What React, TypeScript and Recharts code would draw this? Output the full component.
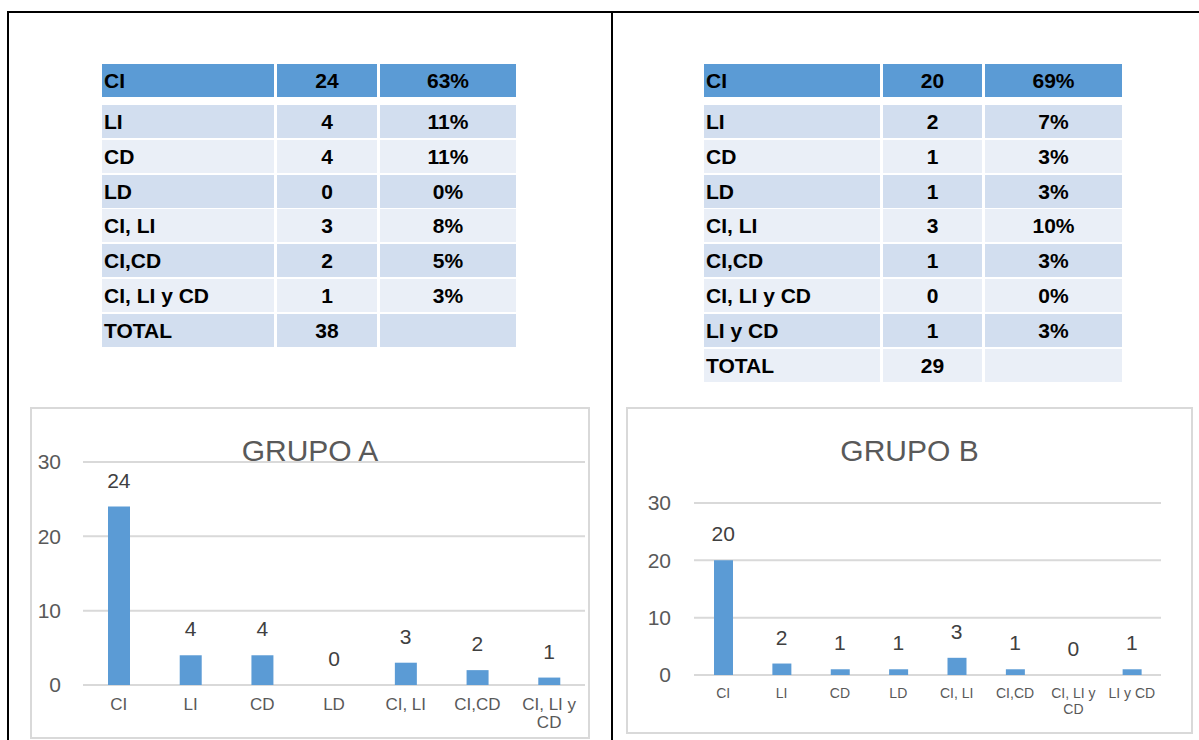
import { ComposedChart, Bar, Line, XAxis, YAxis, CartesianGrid, LabelList, Text } from "recharts";

const FONT = "'Liberation Sans', Arial, sans-serif";

// grupo A
const categoriasA = ["CI", "LI", "CD", "LD", "CI, LI", "CI,CD", "CI, LI y CD"];
const valoresA = [24, 4, 4, 0, 3, 2, 1];
const porcentajesA = ["63%", "11%", "11%", "0%", "8%", "5%", "3%"];
const totalA = 38;

// grupo B
const categoriasB = ["CI", "LI", "CD", "LD", "CI, LI", "CI,CD", "CI, LI y CD", "LI y CD"];
const valoresB = [20, 2, 1, 1, 3, 1, 0, 1];
const porcentajesB = ["69%", "7%", "3%", "3%", "10%", "3%", "0%", "3%"];
const totalB = 29;

const yTicks = [0, 10, 20, 30];

const AZUL = "#5B9BD5";
const FILA_OSCURA = "#D2DEEF";
const FILA_CLARA = "#EAEFF7";

interface TablaProps {
  left: number;
  cols: [number, number, number];
  categorias: string[];
  valores: number[];
  porcentajes: string[];
  total: number;
}

function Celda({ x, y, w, bg, align, children }: any) {
  return (
    <div
      style={{
        position: "absolute",
        left: x,
        top: y,
        width: w,
        height: 33,
        background: bg,
        display: "flex",
        alignItems: "center",
        justifyContent: align === "left" ? "flex-start" : "center",
        paddingLeft: align === "left" ? 2 : 0,
        boxSizing: "border-box",
        fontFamily: FONT,
        fontWeight: 700,
        fontSize: 21,
        color: "#000",
      }}
    >
      {children}
    </div>
  );
}

function Tabla({ left, cols, categorias, valores, porcentajes, total }: TablaProps) {
  const x1 = left;
  const x2 = x1 + cols[0] + 3;
  const x3 = x2 + cols[1] + 3;
  const filas = categorias.map((c, i) => ({ c, v: String(valores[i]), p: porcentajes[i] }));
  filas.push({ c: "TOTAL", v: String(total), p: "" });
  return (
    <>
      {filas.map((f, i) => {
        const y = i === 0 ? 64 : 105 + Math.round((i - 1) * 34.8);
        const bg = i === 0 ? AZUL : i % 2 === 1 ? FILA_OSCURA : FILA_CLARA;
        return (
          <div key={i}>
            <Celda x={x1} y={y} w={cols[0]} bg={bg} align="left">{f.c}</Celda>
            <Celda x={x2} y={y} w={cols[1]} bg={bg}>{f.v}</Celda>
            <Celda x={x3} y={y} w={cols[2]} bg={bg}>{f.p}</Celda>
          </div>
        );
      })}
    </>
  );
}

function WrapTick(props: any) {
  const { x, y, payload, size, lh, ancho } = props;
  return (
    <Text
      x={x}
      y={y}
      width={ancho}
      textAnchor="middle"
      verticalAnchor="start"
      lineHeight={lh}
      fontSize={size}
      fontFamily={FONT}
      fill="#595959"
    >
      {payload.value}
    </Text>
  );
}

interface GraficoProps {
  left: number;
  top: number;
  width: number;
  height: number;
  titulo: string;
  categorias: string[];
  valores: number[];
  margin: { top: number; right: number; left: number; bottom: number };
  ejeY: number;
  ejeX: number;
  barra: number;
  tickSize: number;
  tickLh: number;
  tickAncho: number;
  tickGap: number;
}

function Grafico(p: GraficoProps) {
  const data = p.categorias.map((c, i) => ({ categoria: c, valor: p.valores[i] }));
  return (
    <>
      <div
        style={{
          position: "absolute",
          left: p.left,
          top: p.top,
          width: p.width,
          height: p.height,
          border: "2px solid #D9D9D9",
          boxSizing: "border-box",
          background: "#fff",
        }}
      />
      <div
        style={{
          position: "absolute",
          left: p.left,
          top: p.top + 26,
          width: p.width,
          textAlign: "center",
          fontFamily: FONT,
          fontSize: 30,
          color: "#595959",
          lineHeight: "36px",
        }}
      >
        {p.titulo}
      </div>
      <div style={{ position: "absolute", left: p.left, top: p.top }}>
        <ComposedChart width={p.width} height={p.height} data={data} margin={p.margin}>
          <CartesianGrid vertical={false} stroke="#D9D9D9" strokeWidth={2} />
          <XAxis
            dataKey="categoria"
            height={p.ejeX}
            axisLine={false}
            tickLine={false}
            tickSize={0}
            tickMargin={13}
            interval={0}
            tick={(t: any) => <WrapTick {...t} size={p.tickSize} lh={p.tickLh} ancho={p.tickAncho} />}
          />
          <YAxis
            domain={[0, 30]}
            ticks={yTicks}
            width={p.ejeY}
            axisLine={false}
            tickLine={false}
            tickSize={0}
            tickMargin={p.tickGap}
            tick={{ fill: "#595959", fontSize: 21, fontFamily: FONT }}
          />
          <Bar dataKey="valor" fill={AZUL} barSize={p.barra} isAnimationActive={false} />
          {/* serie invisible solo para las etiquetas (incluye los ceros) */}
          <Line
            dataKey="valor"
            stroke="none"
            dot={false}
            activeDot={false}
            legendType="none"
            isAnimationActive={false}
          >
            <LabelList dataKey="valor" position="top" offset={19} fill="#404040" fontSize={21} fontFamily={FONT} />
          </Line>
        </ComposedChart>
      </div>
    </>
  );
}

export default function App() {
  return (
    <div style={{ position: "absolute", left: 0, top: 0, width: 1199, height: 740, background: "#fff", overflow: "hidden" }}>
      {/* marco del documento */}
      <div style={{ position: "absolute", left: 7, top: 11, width: 1192, height: 2, background: "#000" }} />
      <div style={{ position: "absolute", left: 7, top: 11, width: 2, height: 729, background: "#000" }} />
      <div style={{ position: "absolute", left: 611, top: 11, width: 2, height: 729, background: "#000" }} />

      <Tabla left={102} cols={[172, 100, 136]} categorias={categoriasA} valores={valoresA} porcentajes={porcentajesA} total={totalA} />
      <Tabla left={704} cols={[176, 99, 137]} categorias={categoriasB} valores={valoresB} porcentajes={porcentajesB} total={totalB} />

      <Grafico
        left={30}
        top={407}
        width={560}
        height={332}
        titulo="GRUPO A"
        categorias={categoriasA}
        valores={valoresA}
        margin={{ top: 55, right: 5, left: 0, bottom: 9 }}
        ejeY={53}
        ejeX={45}
        barra={22}
        tickSize={17}
        tickLh={18}
        tickAncho={66}
        tickGap={22}
      />
      <Grafico
        left={626}
        top={407}
        width={567}
        height={327}
        titulo="GRUPO B"
        categorias={categoriasB}
        valores={valoresB}
        margin={{ top: 96, right: 32, left: 0, bottom: 9 }}
        ejeY={68}
        ejeX={50}
        barra={19}
        tickSize={14}
        tickLh={16}
        tickAncho={56}
        tickGap={23}
      />
    </div>
  );
}
